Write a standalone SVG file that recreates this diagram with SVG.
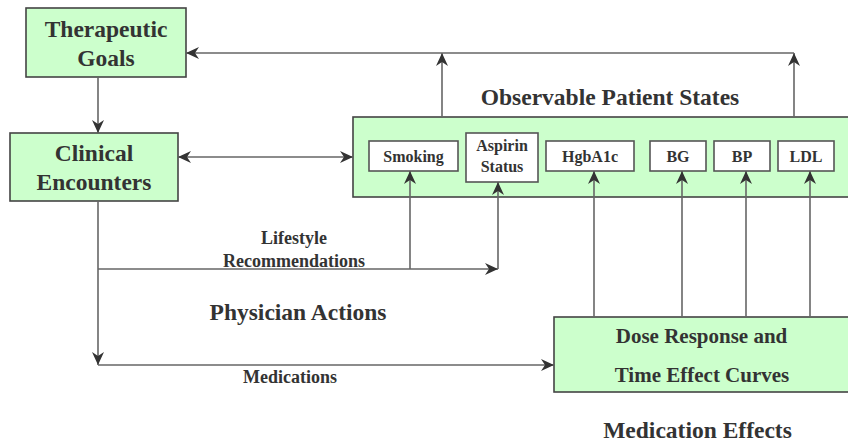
<svg xmlns="http://www.w3.org/2000/svg" width="848" height="445" viewBox="0 0 848 445">
<style>
.box{fill:#ccffcc;stroke:#444;stroke-width:1.6}
.ibox{fill:#fff;stroke:#555;stroke-width:1.6}
.t{font-family:"Liberation Serif","Times New Roman",serif;font-weight:bold;fill:#333;text-anchor:middle}
.big{font-size:23.5px}
.med{font-size:21px}
.sm{font-size:16px}
.lb{font-size:18px}
.c{fill:none;stroke:#666;stroke-width:1.6}
</style>
<defs>
<marker id="ah" markerUnits="userSpaceOnUse" markerWidth="14" markerHeight="12" viewBox="0 0 14 12" refX="13" refY="6" orient="auto-start-reverse">
<path d="M0,0 L13,6 L0,12 L4,6 z" fill="#333"/>
</marker>
</defs>
<rect width="848" height="445" fill="#fff"/>
<g id="therapeutic-goals">
<rect class="box" x="26" y="8" width="160" height="69"/>
<text class="t big" x="106" y="37">Therapeutic</text>
<text class="t big" x="106" y="66">Goals</text>
</g>
<g id="clinical-encounters">
<rect class="box" x="10" y="133" width="168" height="68"/>
<text class="t big" x="94" y="161">Clinical</text>
<text class="t big" x="94" y="190">Encounters</text>
</g>
<g id="observable-patient-states">
<text class="t big" x="610" y="105">Observable Patient States</text>
<rect class="box" x="353" y="117" width="510" height="80"/>
</g>
<g id="smoking">
<rect class="ibox" x="369" y="141" width="89" height="30"/>
<text class="t sm" x="413.5" y="162">Smoking</text>
</g>
<g id="aspirin-status">
<rect class="ibox" x="466" y="133" width="72" height="49"/>
<text class="t sm" x="502" y="151">Aspirin</text>
<text class="t sm" x="502" y="172">Status</text>
</g>
<g id="hgba1c">
<rect class="ibox" x="546" y="141" width="88" height="30"/>
<text class="t sm" x="590" y="162">HgbA1c</text>
</g>
<g id="bg">
<rect class="ibox" x="650" y="141" width="56" height="30"/>
<text class="t sm" x="678" y="162">BG</text>
</g>
<g id="bp">
<rect class="ibox" x="714" y="141" width="56" height="30"/>
<text class="t sm" x="742" y="162">BP</text>
</g>
<g id="ldl">
<rect class="ibox" x="778" y="141" width="56" height="30"/>
<text class="t sm" x="806" y="162">LDL</text>
</g>
<g id="dose-response">
<rect class="box" x="554" y="317" width="310" height="75"/>
<text class="t med" x="701.5" y="343">Dose Response and</text>
<text class="t med" x="702" y="382">Time Effect Curves</text>
</g>
<g id="labels">
<text class="t lb" x="294" y="244">Lifestyle</text>
<text class="t lb" x="294" y="267">Recommendations</text>
<text class="t big" x="298" y="320">Physician Actions</text>
<text class="t lb" x="290" y="383">Medications</text>
<text class="t big" x="697.5" y="438">Medication Effects</text>
</g>
<g id="connectors">
<path class="c" d="M98,77 V133" marker-end="url(#ah)"/>
<path class="c" d="M178,157 H353" marker-start="url(#ah)" marker-end="url(#ah)"/>
<path class="c" d="M442,117 V53" marker-end="url(#ah)"/>
<path class="c" d="M794,117 V53" marker-end="url(#ah)"/>
<path class="c" d="M794,53 H186" marker-end="url(#ah)"/>
<path class="c" d="M98,201 V365" marker-end="url(#ah)"/>
<path class="c" d="M98,269 H498" marker-end="url(#ah)"/>
<path class="c" d="M498,269 V182" marker-end="url(#ah)"/>
<path class="c" d="M410,269 V171" marker-end="url(#ah)"/>
<path class="c" d="M98,365 H554" marker-end="url(#ah)"/>
<path class="c" d="M594,317 V171" marker-end="url(#ah)"/>
<path class="c" d="M682,317 V171" marker-end="url(#ah)"/>
<path class="c" d="M746,317 V171" marker-end="url(#ah)"/>
<path class="c" d="M810,317 V171" marker-end="url(#ah)"/>
</g>
</svg>
